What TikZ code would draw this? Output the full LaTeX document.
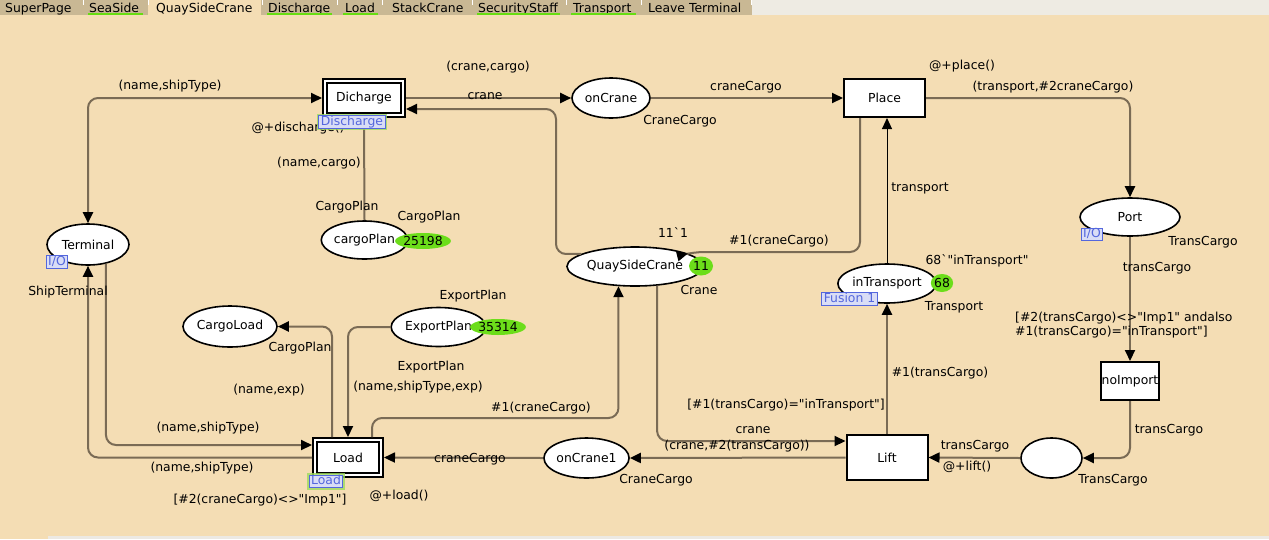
\documentclass[tikz,border=0pt]{standalone}
\usepackage{fontspec}
\setmainfont{DejaVu Sans}[Ligatures=TeXOff]
\usetikzlibrary{arrows.meta,calc,shapes.geometric}
\definecolor{canvas}{HTML}{F4DDB4}
\definecolor{tabbg}{HTML}{C9B894}
\definecolor{tabrest}{HTML}{EEEBE3}
\definecolor{botstrip}{HTML}{ECE9E3}
\definecolor{arc}{HTML}{7A6B55}
\definecolor{tokgreen}{HTML}{6CDD1A}
\definecolor{tagblue}{HTML}{5467DD}
\definecolor{tagfill}{HTML}{D9DDF6}
\definecolor{glow}{HTML}{9EDB5E}
\definecolor{ulgreen}{HTML}{66DD11}
\tikzset{
  every node/.style={font=\fontsize{12.4}{14}\selectfont, inner sep=0pt},
  pl/.style={ellipse, draw=black, line width=1.6pt, fill=white},
  tr/.style={rectangle, draw=black, line width=2pt, fill=white},
  subst/.style={rectangle, draw=black, fill=white, line width=2pt, double=white, double distance=2pt, outer sep=3pt},
  tok/.style={ellipse, fill=tokgreen},
  tag/.style={rectangle, draw=tagblue, fill=tagfill, text=tagblue, line width=1pt, inner xsep=2pt, inner ysep=0.5pt, text height=9pt, text depth=2.5pt},
  sttag/.style={tag, preaction={draw=glow, line width=4pt, opacity=0.8}},
  lbl/.style={text=black},
  arcl/.style={draw=arc, line width=2pt, rounded corners=10pt},
  thinarc/.style={draw=black, line width=1pt},
  tabtxt/.style={anchor=base west, text=black},
  ul/.style={draw=ulgreen, line width=1.6pt},
}
\begin{document}
\begin{tikzpicture}[x=1pt,y=-1pt, >={Triangle[length=11pt,width=10pt,color=black]}]
\useasboundingbox (0,0) rectangle (1269,539);
\fill[canvas] (0,0) rectangle (1269,539);
% tab bar
\fill[tabbg] (0,0) rectangle (752,15);
\fill[tabrest] (752,0) rectangle (1269,15);
\fill[canvas] (148,0) rectangle (261,15);
\foreach \x in {83,148,262,337,382,472,566,641,751} \draw[white, line width=1pt] (\x,0) -- (\x,5);
\fill[botstrip] (48,536) rectangle (1269,539);
\node[tabtxt] (tb1) at (5,12) {SuperPage};
\node[tabtxt] (tb2) at (89,12) {SeaSide};
\node[tabtxt] (tb3) at (156,12) {QuaySideCrane};
\node[tabtxt] (tb4) at (268,12) {Discharge};
\node[tabtxt] (tb5) at (345,12) {Load};
\node[tabtxt] (tb6) at (392,12) {StackCrane};
\node[tabtxt] (tb7) at (478,12) {SecurityStaff};
\node[tabtxt] (tb8) at (573,12) {Transport};
\node[tabtxt] (tb9) at (648,12) {Leave Terminal};
\draw[ul] (88,14) -- (143,14);
\draw[ul] (267,14) -- (332,14);
\draw[ul] (343,14) -- (378,14);
\draw[ul] (477,14) -- (560,14);
\draw[ul] (571,14) -- (636,14);

% places and transitions
\node[pl, minimum width=82pt, minimum height=41pt] (term) at (88,244.5) {Terminal};
\node[subst, minimum width=78pt, minimum height=34pt] (dich) at (364,98) {Dicharge};
\node[pl, minimum width=78pt, minimum height=40pt] (oncr) at (611,98) {onCrane};
\node[tr, minimum width=81pt, minimum height=38pt] (place) at (884.5,98) {Place};
\node[pl, minimum width=100pt, minimum height=38pt] (port) at (1130,217) {Port};
\node[pl, minimum width=79pt, minimum height=38pt] (cplan) at (364.5,240) {cargoPlan};
\node[pl, minimum width=120pt, minimum height=39pt] (qsc) at (635,266.5) {QuaySideCrane};
\node[pl, minimum width=94pt, minimum height=39pt] (intr) at (887,283.5) {inTransport};
\node[pl, minimum width=94pt, minimum height=41pt] (cload) at (230,326.5) {CargoLoad};
\node[pl, minimum width=78pt, minimum height=39pt] (expl) at (438.5,327) {ExportPlan};
\node[tr, minimum width=58pt, minimum height=38pt] (noimp) at (1130,381) {noImport};
\node[subst, minimum width=66pt, minimum height=35pt] (load) at (348,457.5) {Load};
\node[pl, minimum width=79pt, minimum height=40pt] (oncr1) at (586.5,458) {onCrane1};
\node[tr, minimum width=81pt, minimum height=45pt] (lift) at (887,457.5) {Lift};
\node[pl, minimum width=61pt, minimum height=40pt] (unn) at (1051.5,458) {};

% arcs
\draw[arcl,<->] (term.north) |- (dich.west);
\draw[arcl,->] (dich.east) -- (oncr.west);
\draw[arcl,->] (qsc.167) -| (556,109) -- (dich.east |- 556,109);
\draw[arcl,->] (oncr.east) -- (place.west);
\draw[arcl,->] (place.east) -| (port.north);
\draw[arcl,->] (860,0 |- place.south) -- (860,252) -- (694,252) -- (qsc);
\draw[thinarc,->] (intr.north) -- (intr.north |- place.south);
\draw[arcl,->] (lift.north) -- (intr.south);
\draw[arcl,->] (port.south) -- (noimp.north);
\draw[arcl,->] (noimp.south) |- (unn.east);
\draw[arcl,->] (unn.west) -- (lift.east);
\draw[arcl,->] (lift.west) -- (oncr1.east);
\draw[arcl,->] (qsc.-41) |- (lift.west |- 0,441);
\draw[arcl,->] (oncr1.west) -- (load.east);
\draw[arcl,->] (372,0 |- load.north) -- (372,418) -| (qsc.-130.4);
\draw[arcl,->] (expl.west) -| (load.north);
\draw[arcl,->] (332,0 |- load.north) |- (cload.east);
\draw[arcl,->] (term.-47.6) |- (load.west |- 0,445);
\draw[arcl,->] (load.west) -| (term.south);
\draw[arcl,->] (cplan.north) -- (dich.south);

% tokens
\node[tok, minimum width=46pt, minimum height=16pt] (tk1) at (423,241) {25198};
\node[tok, minimum width=24pt, minimum height=19pt] (tk2) at (701,266) {11};
\node[tok, minimum width=48pt, minimum height=16pt] (tk3) at (498,327) {35314};
\node[tok, minimum width=22pt, minimum height=18pt] (tk4) at (942,283) {68};

% labels
\node[lbl] (l1) at (170,86) {(name,shipType)};
\node[lbl] (l2) at (298,128) {@+discharge()};
\node[lbl] (l3) at (319,163) {(name,cargo)};
\node[lbl] (l4) at (347,207) {CargoPlan};
\node[lbl] (l5) at (429,217) {CargoPlan};
\node[lbl] (l6) at (488,67) {(crane,cargo)};
\node[lbl] (l7) at (485,96) {crane};
\node[lbl] (l8) at (746,87) {craneCargo};
\node[lbl] (l9) at (680,121) {CraneCargo};
\node[lbl] (l10) at (962,66) {@+place()};
\node[lbl] (l11) at (1053,87) {(transport,\#2craneCargo)};
\node[lbl] (l12) at (920,188) {transport};
\node[lbl] (l13) at (1203,242) {TransCargo};
\node[lbl] (l14) at (673,233) {11`1};
\node[lbl] (l15) at (779,241) {\#1(craneCargo)};
\node[lbl] (l16) at (68,292) {ShipTerminal};
\node[lbl] (l17) at (300,348) {CargoPlan};
\node[lbl] (l18) at (269,390) {(name,exp)};
\node[lbl] (l19) at (473,296) {ExportPlan};
\node[lbl] (l20) at (431,367) {ExportPlan};
\node[lbl] (l21) at (418,387) {(name,shipType,exp)};
\node[lbl] (l22) at (541,408) {\#1(craneCargo)};
\node[lbl] (l23) at (699,290) {Crane};
\node[lbl] (l24) at (977,261) {68`"inTransport"};
\node[lbl] (l25) at (954,307) {Transport};
\node[lbl] (l26) at (1157,268) {transCargo};
\node[lbl, align=left, anchor=west] (l27) at (1015,325) {[\#2(transCargo)<>"Imp1" andalso\\\#1(transCargo)="inTransport"]};
\node[lbl] (l28) at (940,373) {\#1(transCargo)};
\node[lbl] (l29) at (786,405) {[\#1(transCargo)="inTransport"]};
\node[lbl] (l30) at (753,430) {crane};
\node[lbl] (l31) at (737,446) {(crane,\#2(transCargo))};
\node[lbl] (l32) at (975,446) {transCargo};
\node[lbl] (l33) at (967,467) {@+lift()};
\node[lbl] (l34) at (656,480) {CraneCargo};
\node[lbl] (l35) at (1113,480) {TransCargo};
\node[lbl] (l36) at (1169,430) {transCargo};
\node[lbl] (l37) at (208,428) {(name,shipType)};
\node[lbl] (l38) at (202,468) {(name,shipType)};
\node[lbl] (l39) at (260,500) {[\#2(craneCargo)<>"Imp1"]};
\node[lbl] (l40) at (399,496) {@+load()};
\node[lbl] (l41) at (470,459) {craneCargo};

% tags
\node[sttag] (tgd) at (352,122) {Discharge};
\node[tag] (tgio1) at (1092,234.5) {I/O};
\node[tag] (tgio2) at (57,262) {I/O};
\node[tag] (tgf) at (849.5,299) {Fusion 1};
\node[sttag] (tgl) at (326,481.5) {Load};
\end{tikzpicture}
\end{document}
